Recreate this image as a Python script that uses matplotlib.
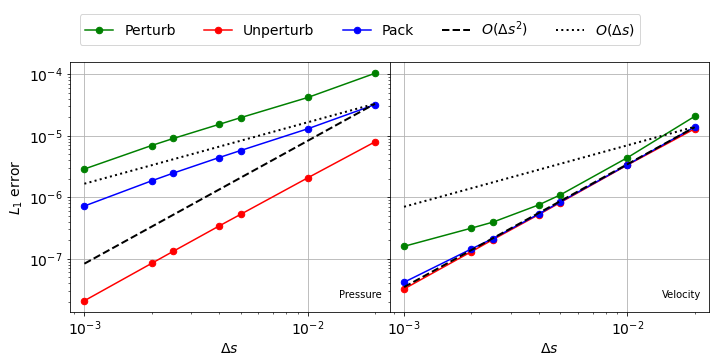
import matplotlib
matplotlib.use("Agg")
import matplotlib.pyplot as plt

ds = [0.001, 0.002, 0.0025, 0.004, 0.005, 0.01, 0.02]

p_perturb = [2.88e-6, 6.95e-6, 9.04e-6, 1.53e-5, 1.97e-5, 4.2e-5, 1.04e-4]
p_unperturb = [2.07e-8, 8.4e-8, 1.32e-7, 3.39e-7, 5.26e-7, 2.07e-6, 7.97e-6]
p_pack = [7.2e-7, 1.85e-6, 2.47e-6, 4.41e-6, 5.75e-6, 1.30e-5, 3.22e-5]

v_perturb = [1.59e-7, 3.14e-7, 3.94e-7, 7.49e-7, 1.09e-6, 4.41e-6, 2.07e-5]
v_unperturb = [3.22e-8, 1.30e-7, 2.05e-7, 5.20e-7, 8.18e-7, 3.35e-6, 1.30e-5]
v_pack = [4.14e-8, 1.44e-7, 2.13e-7, 5.33e-7, 8.38e-7, 3.39e-6, 1.39e-5]

ref_x = [0.001, 0.02]
p_order2 = [8.3e-8, 3.32e-5]
p_order1 = [1.66e-6, 3.32e-5]
v_order2 = [3.45e-8, 1.38e-5]
v_order1 = [7.0e-7, 1.40e-5]

panels = [
    ("Pressure", p_perturb, p_unperturb, p_pack, p_order2, p_order1),
    ("Velocity", v_perturb, v_unperturb, v_pack, v_order2, v_order1),
]

fig, axes = plt.subplots(1, 2, figsize=(10, 5), dpi=72, sharey=True)
fig.subplots_adjust(left=0.097, right=0.985, bottom=0.133, top=0.828, wspace=0)

for ax, (name, pert, unpert, pack, o2, o1) in zip(axes, panels):
    ax.plot(ds, pert, 'o-', color='green', ms=6.5, label='Perturb')
    ax.plot(ds, unpert, 'o-', color='red', ms=6.5, label='Unperturb')
    ax.plot(ds, pack, 'o-', color='blue', ms=6.5, label='Pack')
    ax.plot(ref_x, o2, '--', color='black', lw=2, label=r'$O(\Delta s^2)$')
    ax.plot(ref_x, o1, ':', color='black', lw=2, label=r'$O(\Delta s)$')
    ax.set_xscale('log')
    ax.set_yscale('log')
    ax.grid(True, which='major', color='#b0b0b0')
    ax.set_xlabel(r'$\Delta s$', fontsize=14)
    ax.tick_params(labelsize=14)
    ax.text(0.975, 0.05, name, transform=ax.transAxes, ha='right', va='bottom', fontsize=10)

axes[0].set_ylabel(r'$L_1$ error', fontsize=14)

handles, labels = axes[0].get_legend_handles_labels()
fig.legend(handles, labels, loc='upper center', ncol=5, fontsize=14,
           bbox_to_anchor=(0.5, 0.98))

fig.savefig('out.png', dpi=72)
